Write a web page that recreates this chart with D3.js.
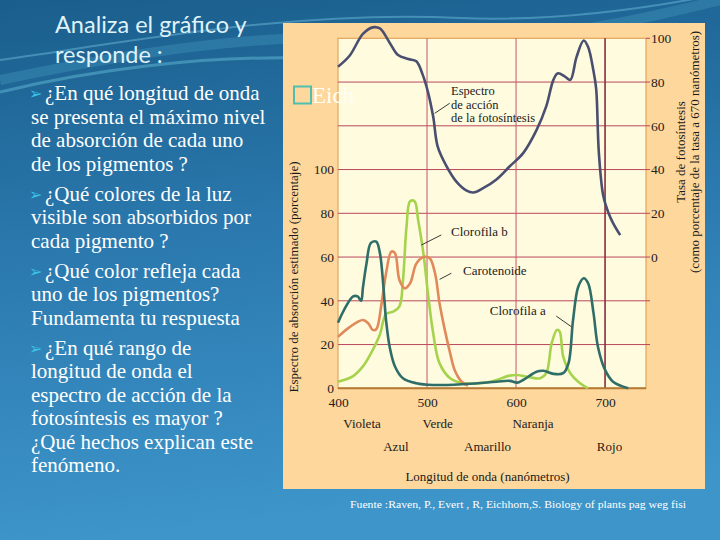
<!DOCTYPE html>
<html>
<head>
<meta charset="utf-8">
<script src="https://cdn.jsdelivr.net/npm/d3@7"></script>
<style>
  body { margin: 0; background: #2b7fb5; }
  svg { display: block; }
</style>
</head>
<body>
<svg id="slide"></svg>
<script>
const width = 720;
const height = 540;

// spectra (wavelength nm / value)
const accionNm = [400, 413, 428, 439, 447, 458, 467, 479, 488, 495, 501, 507, 512, 522, 533, 544, 552, 563, 578, 593, 608, 623, 634, 642, 647, 655, 661, 668, 676, 681, 687, 690, 693, 698, 704, 709, 717];
const accionVal = [87, 92, 102, 105, 104.5, 98, 92.5, 90.5, 89.5, 83.5, 75.5, 64, 50.5, 41.5, 34.5, 30.5, 29.5, 31.5, 35.5, 41.5, 47.5, 58, 69, 81, 84, 82.5, 81, 91.5, 99, 96, 85, 77, 48, 28, 20, 15.5, 10];

const cloroANm = [400, 407, 417, 422, 426, 428, 432, 437, 443, 447, 451, 454, 458, 464, 473, 488, 507, 544, 578, 593, 601, 608, 623, 631, 642, 653, 659, 664, 670, 676, 681, 687, 692, 700, 709, 726];
const cloroAVal = [30, 36, 42, 42, 40, 46, 57, 66.5, 67, 62, 46.5, 31, 19, 10, 4.6, 2.3, 1.5, 2, 3, 3.4, 2.6, 3.8, 7.6, 8, 6.6, 6.9, 11.5, 31, 46.5, 50.3, 48, 34.5, 19, 8.4, 3, 0];

const cloroBNm = [400, 417, 428, 437, 447, 454, 462, 469, 473, 477, 481, 486, 490, 496, 501, 507, 514, 526, 541, 571, 593, 601, 616, 627, 634, 640, 646, 649, 653, 661, 672, 681];
const cloroBVal = [3, 5.6, 10, 16, 24.5, 34, 35, 37.5, 49.5, 74, 85.5, 85.5, 77, 61.5, 43.5, 25, 11.5, 4.6, 2.3, 3, 5.8, 6.1, 5, 4.6, 6.9, 20.5, 26.7, 26, 14.5, 6.9, 2.3, 0];

const carotNm = [400, 413, 428, 434, 439, 443, 449, 454, 460, 464, 469, 475, 481, 488, 496, 503, 509, 514, 520, 526, 531, 539, 546];
const carotVal = [23.5, 28, 31.2, 29.7, 26.7, 27, 39, 52.6, 62.5, 61.7, 49.5, 45.7, 48, 57, 60, 59.5, 52.6, 39, 26.7, 16, 8.4, 3, 1.2];

const xTicks = [400, 500, 600, 700];
const leftTicks = [0, 20, 40, 60, 80, 100];
const rightTicks = [0, 20, 40, 60, 80, 100];
const gridLevels = [20, 40, 60, 80, 100, 120, 140];

const colorRow1 = ["Violeta", "Verde", "Naranja"];
const colorRow1Nm = [427, 512, 619];
const colorRow2 = ["Azul", "Amarillo", "Rojo"];
const colorRow2Nm = [465, 568, 705];

const preguntas = [
  ["¿En qué longitud de onda", "se presenta el máximo nivel", "de absorción  de cada uno", "de los pigmentos ?"],
  ["¿Qué colores de la luz", "visible son absorbidos por", "cada pigmento ?"],
  ["¿Qué color refleja cada", "uno de los pigmentos?", "Fundamenta tu respuesta"],
  ["¿En qué rango de", "longitud de onda el", "espectro de acción de la", "fotosíntesis es mayor ?", "¿Qué hechos explican este", "fenómeno."]
];

const serif = "Liberation Serif, Times New Roman, serif";

const svg = d3.select("#slide").attr("width", width).attr("height", height);

// slide background
const defs = svg.append("defs");
const bg = defs.append("linearGradient").attr("id", "bg")
  .attr("x1", 0).attr("y1", 0).attr("x2", 0.15).attr("y2", 1);
bg.append("stop").attr("offset", 0).attr("stop-color", "#1a5e8c");
bg.append("stop").attr("offset", 0.45).attr("stop-color", "#2a78ad");
bg.append("stop").attr("offset", 1).attr("stop-color", "#3d95ca");
svg.append("rect").attr("width", width).attr("height", height).attr("fill", "url(#bg)");

const swoosh = svg.append("g").attr("fill", "none");
swoosh.append("path")
  .attr("d", "M0,80 C120,55 260,30 420,38 C540,44 640,20 720,0")
  .attr("stroke", "#6fd0ea").attr("stroke-width", 10).attr("opacity", 0.18);
swoosh.append("path")
  .attr("d", "M0,60 C140,40 300,10 460,18 C560,22 650,8 720,-6")
  .attr("stroke", "#8fe0f5").attr("stroke-width", 2).attr("opacity", 0.35);
swoosh.append("path")
  .attr("d", "M0,92 C90,70 200,56 300,58")
  .attr("stroke", "#7fdcf0").attr("stroke-width", 3).attr("opacity", 0.35);

// title
svg.append("g")
  .selectAll("text")
  .data(["Analiza el gráfico y", "responde :"])
  .join("text")
  .attr("x", 55)
  .attr("y", (d, i) => 33 + i * 30)
  .attr("font-family", "Lato, Open Sans, sans-serif")
  .attr("font-size", 23.5)
  .attr("fill", "#dff2fa")
  .text(d => d);

// questions
const qGroup = svg.append("g");
let yLine = 100;
preguntas.forEach(block => {
  qGroup.append("text")
    .attr("x", 29).attr("y", yLine - 1)
    .attr("font-family", "DejaVu Sans, sans-serif")
    .attr("font-size", 16)
    .attr("fill", "#3cc3e6")
    .text("➢");
  block.forEach((line, i) => {
    qGroup.append("text")
      .attr("x", i === 0 ? 45 : 31)
      .attr("y", yLine)
      .attr("font-family", serif)
      .attr("font-size", 21)
      .attr("fill", "#ffffff")
      .text(line);
    yLine += 23.5;
  });
  yLine += 6.5;
});

// figure panel
svg.append("rect")
  .attr("x", 283).attr("y", 23)
  .attr("width", 422).attr("height", 466)
  .attr("fill", "#fed79c");

const x = d3.scaleLinear().domain([400, 746]).range([338, 646]);
const yL = d3.scaleLinear().domain([0, 160]).range([388.3, 38.3]);
const yR = d3.scaleLinear().domain([-60, 100]).range([388.3, 38.3]);

const chart = svg.append("g");
chart.append("rect")
  .attr("x", x(400)).attr("y", yL(160))
  .attr("width", x(746) - x(400)).attr("height", yL(0) - yL(160))
  .attr("fill", "#fffbdf")
  .attr("stroke", "#e2a65a").attr("stroke-width", 1.2);

chart.append("g")
  .selectAll("line")
  .data(gridLevels)
  .join("line")
  .attr("x1", x(400)).attr("x2", x(746) + 4)
  .attr("y1", d => yL(d)).attr("y2", d => yL(d))
  .attr("stroke", "#b9485c").attr("stroke-width", 1);

chart.append("line")
  .attr("x1", x(746)).attr("x2", x(746) + 4)
  .attr("y1", yL(160)).attr("y2", yL(160))
  .attr("stroke", "#b9485c");

chart.append("g")
  .selectAll("line")
  .data(xTicks.slice(1))
  .join("line")
  .attr("x1", d => x(d)).attr("x2", d => x(d))
  .attr("y1", yL(160)).attr("y2", yL(0))
  .attr("stroke", d => d === 700 ? "#8a2c3e" : "#c4566e")
  .attr("stroke-width", d => d === 700 ? 1.6 : 1);

chart.append("line")
  .attr("x1", x(400)).attr("x2", x(746))
  .attr("y1", yL(0)).attr("y2", yL(0))
  .attr("stroke", "#b57a34").attr("stroke-width", 2);

// curves
const line = d3.line()
  .x(d => x(d[0]))
  .curve(d3.curveCatmullRom.alpha(0.5));

const series = [
  { nm: cloroBNm, v: cloroBVal, color: "#a6d34c", axis: yL },
  { nm: carotNm, v: carotVal, color: "#e0895a", axis: yL },
  { nm: cloroANm, v: cloroAVal, color: "#2f6e68", axis: yL },
  { nm: accionNm, v: accionVal, color: "#4a4f70", axis: yR }
];
series.forEach(s => {
  chart.append("path")
    .datum(s.nm.map((n, i) => [n, s.v[i]]))
    .attr("fill", "none")
    .attr("stroke", s.color)
    .attr("stroke-width", 2.6)
    .attr("stroke-linejoin", "round")
    .attr("d", line.y(d => s.axis(d[1])));
});

// axes labels
const leftAxis = d3.axisLeft(yL).tickValues(leftTicks).tickSize(0).tickPadding(4);
chart.append("g")
  .attr("transform", `translate(${x(400)},0)`)
  .call(leftAxis)
  .call(g => g.select(".domain").remove())
  .call(g => g.selectAll("text").attr("font-family", serif).attr("font-size", 13.5).attr("fill", "#222"));

const rightAxis = d3.axisRight(yR).tickValues(rightTicks).tickSize(0).tickPadding(5);
chart.append("g")
  .attr("transform", `translate(${x(746)},0)`)
  .call(rightAxis)
  .call(g => g.select(".domain").remove())
  .call(g => g.selectAll("text").attr("font-family", serif).attr("font-size", 13.5).attr("fill", "#222"));

const bottomAxis = d3.axisBottom(x).tickValues(xTicks).tickSize(0).tickPadding(9).tickFormat(d3.format("d"));
chart.append("g")
  .attr("transform", `translate(0,${yL(0)})`)
  .call(bottomAxis)
  .call(g => g.select(".domain").remove())
  .call(g => g.selectAll("text").attr("font-family", serif).attr("font-size", 13.5).attr("fill", "#222"));

const labels = chart.append("g")
  .attr("font-family", serif)
  .attr("font-size", 13)
  .attr("fill", "#1a1a1a");

labels.selectAll(".row1")
  .data(colorRow1)
  .join("text")
  .attr("x", (d, i) => x(colorRow1Nm[i]))
  .attr("y", 428)
  .attr("text-anchor", "middle")
  .text(d => d);
labels.selectAll(".row2")
  .data(colorRow2)
  .join("text")
  .attr("x", (d, i) => x(colorRow2Nm[i]))
  .attr("y", 451)
  .attr("text-anchor", "middle")
  .text(d => d);
labels.append("text")
  .attr("x", x(568)).attr("y", 481)
  .attr("text-anchor", "middle")
  .text("Longitud de onda (nanómetros)");

labels.append("text")
  .attr("transform", "translate(298,277) rotate(-90)")
  .attr("text-anchor", "middle")
  .text("Espectro de absorción estimado (porcentaje)");
labels.append("text")
  .attr("transform", "translate(685,152) rotate(-90)")
  .attr("text-anchor", "middle")
  .text("Tasa de fotosíntesis");
labels.append("text")
  .attr("transform", "translate(699,152) rotate(-90)")
  .attr("text-anchor", "middle")
  .text("(como porcentaje de la tasa a 670 nanómetros)");

// curve annotations
["Espectro", "de acción", "de la fotosíntesis"].forEach((t, i) => {
  labels.append("text")
    .attr("x", x(527)).attr("y", 95 + i * 13.6)
    .attr("font-size", 12.5)
    .text(t);
});
const notes = [
  { text: "Clorofila b", nm: 527, v: 69.8, from: [493.6, 65.5], to: [516, 70.1] },
  { text: "Carotenoide", nm: 540.5, v: 51.6, from: [514.2, 49.8], to: [527.3, 52.6] },
  { text: "Clorofila a", nm: 570.5, v: 33.3, from: [662, 28.2], to: [645.2, 33] }
];
notes.forEach(n => {
  labels.append("text").attr("x", x(n.nm)).attr("y", yL(n.v)).text(n.text);
  chart.append("line")
    .attr("x1", x(n.from[0])).attr("y1", yL(n.from[1]))
    .attr("x2", x(n.to[0])).attr("y2", yL(n.to[1]))
    .attr("stroke", "#222").attr("stroke-width", 0.9);
});
chart.append("line")
  .attr("x1", x(508.6)).attr("y1", yR(65.7))
  .attr("x2", x(525.5)).attr("y2", yR(70.3))
  .attr("stroke", "#222").attr("stroke-width", 0.9);

// placeholder glyph left over on the slide
svg.append("rect")
  .attr("x", 294).attr("y", 86.5)
  .attr("width", 17).attr("height", 17)
  .attr("fill", "none")
  .attr("stroke", "#4fbfb0").attr("stroke-width", 2);
svg.append("text")
  .attr("x", 312).attr("y", 103)
  .attr("font-family", serif)
  .attr("font-size", 23)
  .attr("fill", "#fffdf4")
  .text("Eich");

// source
svg.append("text")
  .attr("x", 350).attr("y", 508)
  .attr("font-family", serif)
  .attr("font-size", 10.5)
  .attr("fill", "#ffffff")
  .attr("textLength", 336)
  .attr("lengthAdjust", "spacingAndGlyphs")
  .text("Fuente :Raven, P., Evert , R, Eichhorn,S. Biology of plants pag weg fisi");
</script>
</body>
</html>
